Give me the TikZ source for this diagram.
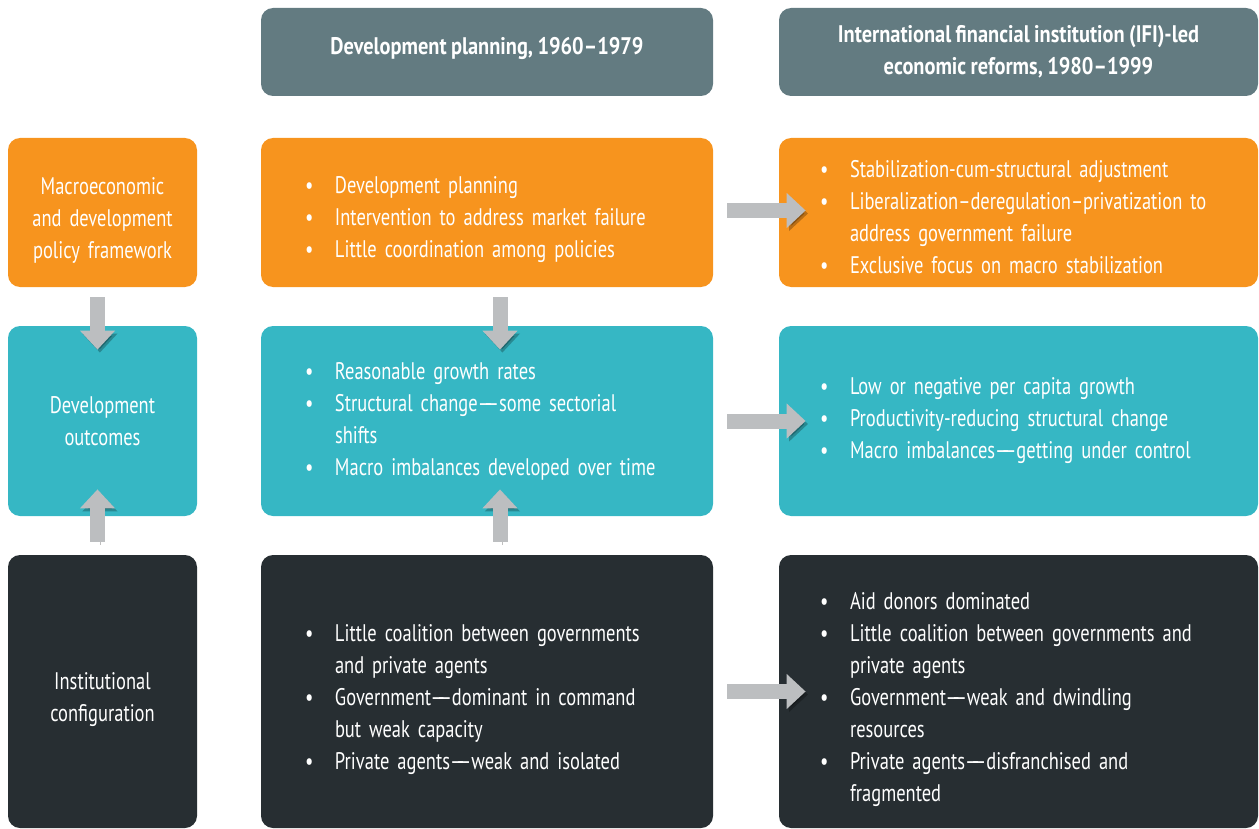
\documentclass[tikz,border=0pt]{standalone}
\usepackage{fontspec}
\setmainfont[FakeStretch=0.77, WordSpace=0.85, BoldFeatures={FakeStretch=0.85}]{PT Sans}
\usetikzlibrary{arrows.meta}

\definecolor{hdrgray}{HTML}{637B81}
\definecolor{frameorange}{HTML}{F7941E}
\definecolor{outteal}{HTML}{36B7C4}
\definecolor{instdark}{HTML}{272E32}
\definecolor{arrowgray}{HTML}{BCBEC0}

\tikzstyle{box} = [rounded corners=6pt, text=white, font=\fontsize{12}{16}\selectfont, inner ysep=0pt]
\tikzstyle{header} = [box, fill=hdrgray, minimum height=44pt, align=center, font=\bfseries\fontsize{12}{16}\selectfont]
\tikzstyle{sidebox} = [box, inner xsep=2pt, text width=90.5pt, align=center]
\tikzstyle{midbox} = [box, inner xsep=22pt, text width=182pt, align=left]
\tikzstyle{rightbox} = [box, inner xsep=20.5pt, text width=198.5pt, align=left]
\tikzstyle{bigarrow} = [draw=arrowgray, line width=7.5pt, -{Triangle[length=9.5pt,width=17pt]},
	preaction={draw=black, opacity=0.25, transform canvas={shift={(1.2pt,-1.5pt)}}}]

\newcommand{\bul}{\makebox[15pt][l]{\textbullet}}
\newcommand{\ind}{\hspace*{15pt}}
\newcommand{\ddash}{\textemdash\kern-4.5pt\textemdash}
\newcommand{\topgap}[1]{\rule{0pt}{#1}}

\begin{document}
\begin{tikzpicture}[x=0.5pt,y=-0.5pt]
		\useasboundingbox (0,0) rectangle (1259,829);
		% column headers
		\node[header, minimum width=226pt] (h1) at (487,52) {Development planning, 1960--1979\rule[-6.5pt]{0pt}{1pt}};
		\node[header, minimum width=239.5pt] (h2) at (1018.5,52) {International financial institution (IFI)-led\\economic reforms, 1980--1999};
		% row 1
		\node[sidebox, fill=frameorange, minimum height=74.5pt] (r1c0) at (102.5,212.5) {\topgap{16pt}Macroeconomic\\and development\\policy framework};
		\node[midbox, fill=frameorange, minimum height=74.5pt] (r1c1) at (487,212.5) {\topgap{16pt}\bul Development planning\\\bul Intervention to address market failure\\\bul Little coordination among policies};
		\node[rightbox, fill=frameorange, minimum height=74.5pt] (r1c2) at (1018.5,212.5) {\topgap{13pt}\bul Stabilization-cum-structural adjustment\\\bul Liberalization--deregulation--privatization to\\\ind address government failure\\\bul Exclusive focus on macro stabilization};
		% row 2
		\node[sidebox, fill=outteal, minimum height=95pt] (r2c0) at (102.5,421) {Development\\outcomes};
		\node[midbox, fill=outteal, minimum height=95pt] (r2c1) at (487,421) {\bul Reasonable growth rates\\\bul Structural change\ddash some sectorial\\\ind shifts\\\bul Macro imbalances developed over time};
		\node[rightbox, fill=outteal, minimum height=95pt] (r2c2) at (1018.5,421) {\bul Low or negative per capita growth\\\bul Productivity-reducing structural change\\\bul Macro imbalances\ddash getting under control};
		% row 3
		\node[sidebox, fill=instdark, minimum height=136.5pt] (r3c0) at (102.5,691.5) {\topgap{17pt}Institutional\\configuration};
		\node[midbox, fill=instdark, minimum height=136.5pt] (r3c1) at (487,691.5) {\topgap{17pt}\bul Little coalition between governments\\\ind and private agents\\\bul Government\ddash dominant in command\\\ind but weak capacity\\\bul Private agents\ddash weak and isolated};
		\node[rightbox, fill=instdark, minimum height=136.5pt] (r3c2) at (1018.5,691.5) {\topgap{17pt}\bul Aid donors dominated\\\bul Little coalition between governments and\\\ind private agents\\\bul Government\ddash weak and dwindling\\\ind resources\\\bul Private agents\ddash disfranchised and\\\ind fragmented};
		% arrows
		\draw[bigarrow, shorten <=5pt, shorten >=-12pt] ([xshift=-2.5pt]r1c0.south) -- ([xshift=-2.5pt]r2c0.north);
		\draw[bigarrow, shorten <=5pt, shorten >=-12pt] ([xshift=6.5pt]r1c1.south) -- ([xshift=6.5pt]r2c1.north);
		\draw[bigarrow, shorten <=6.5pt, shorten >=-13.5pt] ([xshift=-2.5pt]r3c0.north) -- ([xshift=-2.5pt]r2c0.south);
		\draw[bigarrow, shorten <=6.5pt, shorten >=-13.5pt] ([xshift=6.5pt]r3c1.north) -- ([xshift=6.5pt]r2c1.south);
		\draw[bigarrow, shorten <=7pt, shorten >=-13.5pt] ([yshift=1pt]r1c1.east) -- ([yshift=1pt]r1c2.west);
		\draw[bigarrow, shorten <=7pt, shorten >=-13.5pt] (r2c1.east) -- (r2c2.west);
		\draw[bigarrow, shorten <=7pt, shorten >=-13.5pt] (r3c1.east) -- (r3c2.west);
		\end{tikzpicture}
\end{document}
